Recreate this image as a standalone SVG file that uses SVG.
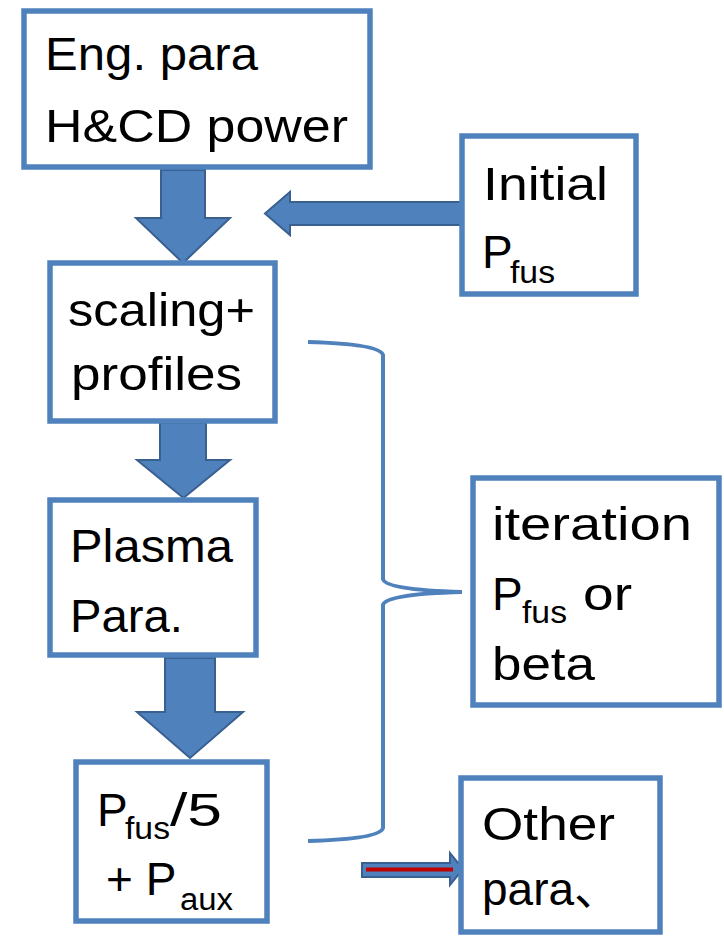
<svg xmlns="http://www.w3.org/2000/svg" width="724" height="937" viewBox="0 0 724 937">
<style>
.box{fill:#fff;stroke:#4F81BD;stroke-width:5.5;stroke-linejoin:miter}
.t{font-family:"Liberation Sans",Arial,sans-serif;font-size:46px;fill:#000}
.s{font-family:"Liberation Sans",Arial,sans-serif;font-size:31px;fill:#000}
.arr{fill:#4F81BD;stroke:#3A6090;stroke-width:2;stroke-linejoin:miter}
.brace{fill:none;stroke:#4F81BD;stroke-width:4}
</style>
<rect width="724" height="937" fill="#fff"/>
<g id="connectors">
<path class="arr" d="M161,170 H205 V218 H230 L183,263 L136,218 H161 Z"/>
<path class="arr" d="M160,423 H206 V460 H230 L183.5,498 L137,460 H160 Z"/>
<path class="arr" d="M165,658 H215 V712 H243 L190,758 L137,712 H165 Z"/>
<path class="arr" d="M462,202 V225 H290 V235 L265,213.5 L290,192 V202 Z"/>
<path class="arr" d="M362,863 H450 V853 L463,869 L450,885 V877 H362 Z"/>
<line x1="366" y1="869.5" x2="453" y2="869.5" stroke="#C00000" stroke-width="4"/>
<path class="brace" d="M308,342 Q380,344 383,355 L383,579 Q385,590 462,592 Q385,594 383,605 L383,828 Q380,839 308,841"/>
</g>
<g id="eng">
<rect class="box" x="24" y="11" width="346" height="156"/>
<text class="t" x="45" y="70" textLength="213" lengthAdjust="spacingAndGlyphs">Eng. para</text>
<text class="t" x="45" y="142" textLength="303" lengthAdjust="spacingAndGlyphs">H&amp;CD power</text>
</g>
<g id="initial">
<rect class="box" x="462" y="136" width="174" height="158"/>
<text class="t" x="483" y="200" font-size="50" textLength="125" lengthAdjust="spacingAndGlyphs">Initial</text>
<text class="t" x="482" y="268">P</text>
<text class="s" x="510" y="283" textLength="45" lengthAdjust="spacingAndGlyphs">fus</text>
</g>
<g id="scaling">
<rect class="box" x="50" y="263" width="225" height="158"/>
<text class="t" x="68" y="326" textLength="187" lengthAdjust="spacingAndGlyphs">scaling+</text>
<text class="t" x="71" y="390" textLength="171" lengthAdjust="spacingAndGlyphs">profiles</text>
</g>
<g id="plasma">
<rect class="box" x="50" y="500" width="206" height="155"/>
<text class="t" x="70" y="562" textLength="163" lengthAdjust="spacingAndGlyphs">Plasma</text>
<text class="t" x="70" y="632" textLength="113" lengthAdjust="spacingAndGlyphs">Para.</text>
</g>
<g id="iteration">
<rect class="box" x="473" y="478" width="246" height="227"/>
<text class="t" x="492" y="540" textLength="200" lengthAdjust="spacingAndGlyphs">iteration</text>
<text class="t" x="492" y="610">P</text>
<text class="s" x="522" y="623" textLength="45" lengthAdjust="spacingAndGlyphs">fus</text>
<text class="t" x="583" y="610" textLength="49" lengthAdjust="spacingAndGlyphs">or</text>
<text class="t" x="492" y="680" textLength="103" lengthAdjust="spacingAndGlyphs">beta</text>
</g>
<g id="pfus">
<rect class="box" x="76" y="762" width="191" height="159"/>
<text class="t" x="97" y="826">P</text>
<text class="s" x="125" y="839" textLength="45" lengthAdjust="spacingAndGlyphs">fus</text>
<text class="t" x="170" y="826" textLength="52" lengthAdjust="spacingAndGlyphs">/5</text>
<text class="t" x="106" y="895">+ P</text>
<text class="s" x="180" y="910" textLength="53" lengthAdjust="spacingAndGlyphs">aux</text>
</g>
<g id="other">
<rect class="box" x="461" y="778" width="199" height="154"/>
<text class="t" x="482" y="840" textLength="133" lengthAdjust="spacingAndGlyphs">Other</text>
<text class="t" x="482" y="905">para<tspan font-family="'Noto Sans CJK SC',sans-serif">、</tspan></text>
</g>
</svg>
